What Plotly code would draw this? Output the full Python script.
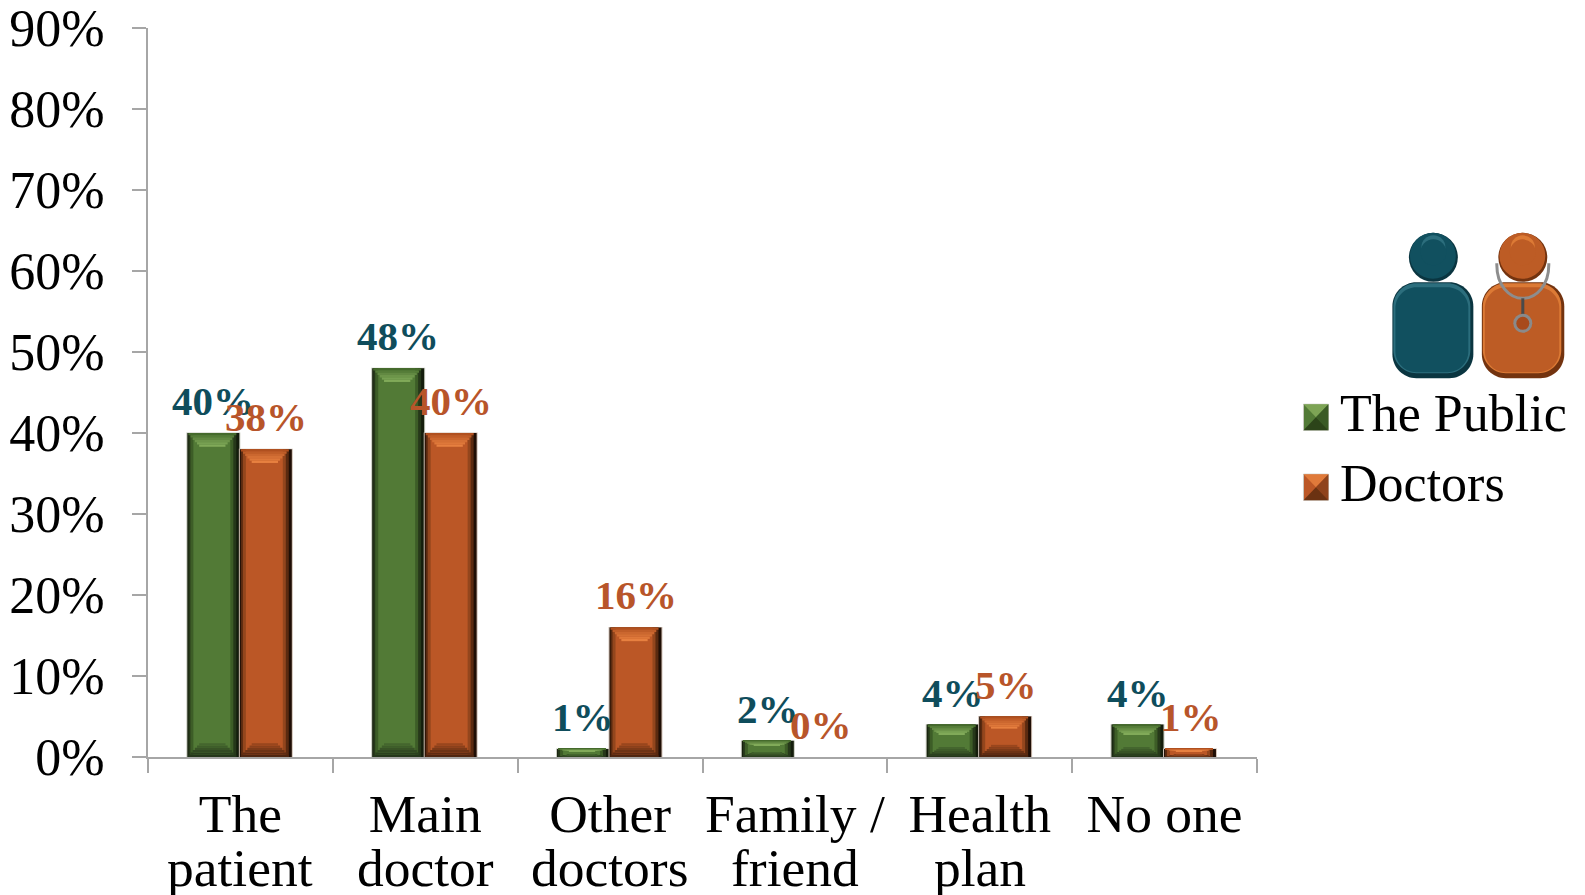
import plotly.graph_objects as go

# Values
line1 = ["The", "Main", "Other", "Family /", "Health", "No one"]
line2 = ["patient", "doctor", "doctors", "friend", "plan", ""]
public = [40, 48, 1, 2, 4, 4]
doctors = [38, 40, 16, 0, 5, 1]
y_ticks = [0, 10, 20, 30, 40, 50, 60, 70, 80, 90]
y_labels = ["0%", "10%", "20%", "30%", "40%", "50%", "60%", "70%", "80%", "90%"]

SERIF = "Liberation Serif"
TEAL = "#0f4d5c"
RUST = "#b8552a"
GREY = "#a6a6a6"

# plot area in page pixels
X0, X1, Y0, Y1 = 147.7, 1257.5, 757.0, 27.5
W, H = 1585, 895
BAR_W = 0.281
CAT_PX = (X1 - X0) / 6
BEVEL_STEPS = 6


def px(x):
    return (x - X0) / (X1 - X0)


def py(y):
    return (Y0 - y) / (Y0 - Y1)


def mix(a, b, t):
    ca = [int(a[i:i + 2], 16) for i in (1, 3, 5)]
    cb = [int(b[i:i + 2], 16) for i in (1, 3, 5)]
    return "#" + "".join(f"{round(p + (q - p) * t):02x}" for p, q in zip(ca, cb))


fig = go.Figure()


def add_layer(offset, width, base, height, color):
    fig.add_trace(go.Bar(
        x=line1, y=height, base=base, offset=offset, width=width,
        marker=dict(color=color, line=dict(width=0)),
        showlegend=False, hoverinfo="skip"
    ))


# Each bar is a stack of overlaid bars to fake the bevel
def add_bevel_bar(values, start, edge, side, top, bottom):
    zero = [0] * len(values)
    add_layer(start - 1 / CAT_PX, BAR_W + 2 / CAT_PX, zero, [v + 0.05 if v else 0 for v in values], edge)
    # vertical sides: (left inset px, right inset px, colour)
    for left, right, color in side:
        add_layer(start + left / CAT_PX, BAR_W - (left + right) / CAT_PX, zero, values, color)
    # top and bottom bevels as stepped bands, shrinking on the short bars
    depth = [min(v * 0.3, 1.7) for v in values]
    for i in range(BEVEL_STEPS):
        t = i / BEVEL_STEPS
        inset = t * 13 / CAT_PX
        color = mix(top[0], top[1], t ** 0.8)
        add_layer(start + inset + 1 / CAT_PX, BAR_W - 2 * inset - 4 / CAT_PX,
                  [v - d * (t + 1 / BEVEL_STEPS) for v, d in zip(values, depth)],
                  [d / BEVEL_STEPS for d in depth], color)
        color = mix(bottom[0], bottom[1], t)
        add_layer(start + inset + 1 / CAT_PX, BAR_W - 2 * inset - 4 / CAT_PX,
                  [d * t for d in depth], [d / BEVEL_STEPS for d in depth], color)


add_bevel_bar(public, -0.287, "#c4c8bc",
              [(0, 0, "#141d0c"), (1, 3, "#26381a"), (3, 6, "#3d5d27"), (6, 9, "#527a36")],
              ("#456a2c", "#8ab460"), ("#24361a", "#4b7032"))
add_bevel_bar(doctors, -0.003, "#d0c0b4",
              [(0, 0, "#1f0e05"), (1, 3, "#5a2a10"), (3, 6, "#93461d"), (6, 9, "#bb5726")],
              ("#b0501f", "#f08845"), ("#4f2610", "#a84d20"))

# Data labels, placed from the values through the axis
annotations = []
for name, value, shift, color in (
    [(c, v, -27, TEAL) for c, v in zip(line1, public)]
    + [(c, v, 26, RUST) for c, v in zip(line1, doctors)]
):
    annotations.append(dict(
        x=name, y=value, xref="x", yref="y", text=f"<b>{value}%</b>",
        showarrow=False, xshift=shift, yshift=32, yanchor="middle",
        font=dict(family=SERIF, size=41, color=color)
    ))

# Second line of the category labels
for name, text in zip(line1, line2):
    if text:
        annotations.append(dict(
            x=name, y=0, xref="x", yref="paper", text=text, showarrow=False,
            yshift=-111, yanchor="middle", font=dict(family=SERIF, size=53.5, color="black")
        ))

# Legend
legend_items = [
    ("The Public", 417, "#527a36", "#2c4419", "#7da455", "#3a5a25"),
    ("Doctors", 487, "#bb5726", "#6b3212", "#e07a3a", "#8f431c"),
]
shapes = []


def tri(pts, col):
    path = "M " + " L ".join(f"{px(a)} {py(c)}" for a, c in pts) + " Z"
    shapes.append(dict(type="path", xref="paper", yref="paper", path=path, fillcolor=col, line=dict(width=0)))


for text, cy, main, dark, light, right_col in legend_items:
    annotations.append(dict(
        x=px(1339), y=py(cy - 4), xref="paper", yref="paper", text=text, showarrow=False,
        xanchor="left", yanchor="middle", font=dict(family=SERIF, size=52, color="black")
    ))
    l, r, t, b = 1304, 1329, cy - 13, cy + 13
    cx = (l + r) / 2
    my = (t + b) / 2
    shapes.append(dict(type="rect", xref="paper", yref="paper", x0=px(l), x1=px(r), y0=py(b), y1=py(t),
                       fillcolor=main, line=dict(color="#c8c8c0", width=1)))
    tri([(l, t), (r, t), (cx, my)], light)
    tri([(r, t), (r, b), (cx, my)], right_col)
    tri([(l, b), (r, b), (cx, my)], dark)


def circle(cx, cy, r, fill):
    shapes.append(dict(type="circle", xref="paper", yref="paper",
                       x0=px(cx - r), x1=px(cx + r), y0=py(cy + r), y1=py(cy - r),
                       fillcolor=fill, line=dict(width=0)))


def round_rect(l, r, t, b, rad, fill):
    k = rad * 0.45
    pts = [
        ("M", l + rad, t), ("L", r - rad, t),
        ("C", r - k, t, r, t + k, r, t + rad), ("L", r, b - rad),
        ("C", r, b - k, r - k, b, r - rad, b), ("L", l + rad, b),
        ("C", l + k, b, l, b - k, l, b - rad), ("L", l, t + rad),
        ("C", l, t + k, l + k, t, l + rad, t),
    ]
    out = []
    for p in pts:
        nums = p[1:]
        coords = [f"{px(nums[i])},{py(nums[i + 1])}" for i in range(0, len(nums), 2)]
        out.append(p[0] + " " + " ".join(coords))
    shapes.append(dict(type="path", xref="paper", yref="paper", path=" ".join(out) + " Z",
                       fillcolor=fill, line=dict(width=0)))


# People icons
def body(l, r, dark, main, light):
    round_rect(l, r, 282, 378, 24, dark)
    round_rect(l + 1, r - 3, 283, 373, 23, light)
    round_rect(l + 3, r - 5, 287, 372, 21, main)


def head(cx, dark, main, light):
    circle(cx, 257, 24.5, dark)
    circle(cx - 0.5, 255.5, 23, main)
    circle(cx, 247, 12, light)
    circle(cx, 252, 13, main)


body(1393, 1474, "#0a3540", "#11505f", "#2c6e7d")
head(1434, "#0a3540", "#11505f", "#2c6e7d")
body(1482.5, 1565, "#73330f", "#bd5c25", "#dc7a35")
shapes.append(dict(type="path", xref="paper", yref="paper",
                   path=f"M {px(1497.5)},{py(263)} C {px(1497)},{py(285)} {px(1510)},{py(298)} {px(1523.5)},{py(298)} "
                        f"C {px(1537)},{py(298)} {px(1550)},{py(285)} {px(1549.5)},{py(263)}",
                   line=dict(color="#8d8d8d", width=3)))
head(1523.5, "#73330f", "#bd5c25", "#dc7a35")
shapes.append(dict(type="line", xref="paper", yref="paper", x0=px(1523.5), x1=px(1523.5), y0=py(298), y1=py(316),
                   line=dict(color="#4a4a4a", width=3)))
circle(1523.5, 323, 9.5, "#8a8a8a")
circle(1523.5, 323, 6.5, "#a84a1b")

fig.update_layout(
    width=W,
    height=H,
    barmode="overlay",
    showlegend=False,
    plot_bgcolor="white",
    paper_bgcolor="white",
    margin=dict(l=X0, r=W - X1, t=Y1, b=H - Y0, autoexpand=False),
    font=dict(family=SERIF, color="black"),
    annotations=annotations,
    shapes=shapes,
    xaxis=dict(
        type="category",
        categoryorder="array",
        categoryarray=line1,
        tickson="boundaries",
        ticks="outside",
        ticklen=14,
        tickwidth=2,
        tickcolor=GREY,
        showline=True,
        linecolor=GREY,
        linewidth=2,
        showgrid=False,
        zeroline=False,
        tickangle=0,
        tickfont=dict(family=SERIF, size=53.5, color="black"),
        ticklabelstandoff=9,
    ),
    yaxis=dict(
        range=[0, 90],
        tickvals=y_ticks,
        ticktext=y_labels,
        ticks="outside",
        ticklen=14,
        tickwidth=2,
        tickcolor=GREY,
        showline=True,
        linecolor=GREY,
        linewidth=2,
        showgrid=False,
        zeroline=False,
        tickfont=dict(family=SERIF, size=52, color="black"),
        ticklabelstandoff=17,
    ),
)

fig.write_html("out.html", config=dict(displayModeBar=False), post_script="document.body.style.margin='0';")
